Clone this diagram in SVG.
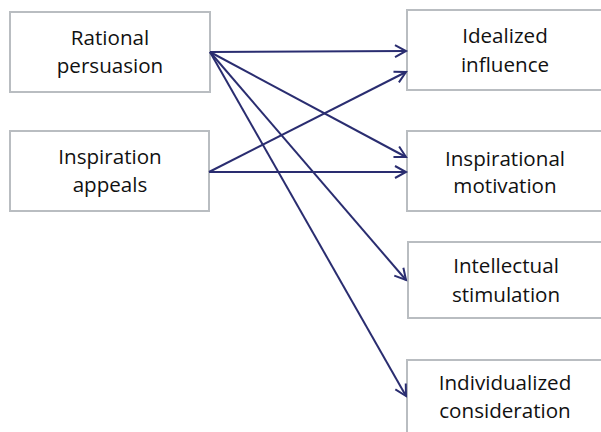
<svg xmlns="http://www.w3.org/2000/svg" width="601" height="432" viewBox="0 0 601 432">
  <style>
    .box { fill: #ffffff; stroke: #b9bdc1; stroke-width: 2; }
    .label { font-family: "Open Sans", "Noto Sans", sans-serif; font-size: 20.6px; fill: #111111; text-anchor: middle; }
    .edge { fill: none; stroke: #2a2d70; stroke-width: 2; marker-end: url(#arrow); }
  </style>
  <defs>
    <marker id="arrow" markerUnits="userSpaceOnUse" markerWidth="16" markerHeight="16" refX="12" refY="7" orient="auto" viewBox="0 0 16 14">
      <path d="M1,1 L12,7 L1,13" fill="none" stroke="#2a2d70" stroke-width="2" stroke-linejoin="miter"/>
    </marker>
  </defs>
  <rect width="601" height="432" fill="#ffffff"/>

  <g id="rational-persuasion">
    <rect class="box" x="10" y="12" width="200" height="80"/>
    <text class="label" x="110" y="45">Rational</text>
    <text class="label" x="110" y="73">persuasion</text>
  </g>
  <g id="inspiration-appeals">
    <rect class="box" x="10" y="131" width="199" height="80"/>
    <text class="label" x="110" y="164">Inspiration</text>
    <text class="label" x="110" y="192">appeals</text>
  </g>
  <g id="idealized-influence">
    <rect class="box" x="407" y="10" width="198" height="80"/>
    <text class="label" x="505" y="43">Idealized</text>
    <text class="label" x="505" y="72">influence</text>
  </g>
  <g id="inspirational-motivation">
    <rect class="box" x="407" y="131" width="198" height="80"/>
    <text class="label" x="505" y="166">Inspirational</text>
    <text class="label" x="505" y="193">motivation</text>
  </g>
  <g id="intellectual-stimulation">
    <rect class="box" x="408" y="242" width="198" height="76"/>
    <text class="label" x="506" y="273">Intellectual</text>
    <text class="label" x="506" y="302">stimulation</text>
  </g>
  <g id="individualized-consideration">
    <rect class="box" x="407" y="360" width="198" height="80"/>
    <text class="label" x="505" y="390">Individualized</text>
    <text class="label" x="505" y="418">consideration</text>
  </g>

  <g id="connectors">
    <line class="edge" x1="210" y1="52" x2="406" y2="51"/>
    <line class="edge" x1="210" y1="52" x2="406" y2="157"/>
    <line class="edge" x1="210" y1="52" x2="406" y2="280"/>
    <line class="edge" x1="210" y1="52" x2="406" y2="396"/>
    <line class="edge" x1="209" y1="172" x2="406" y2="72"/>
    <line class="edge" x1="209" y1="172" x2="406" y2="172"/>
  </g>
</svg>
